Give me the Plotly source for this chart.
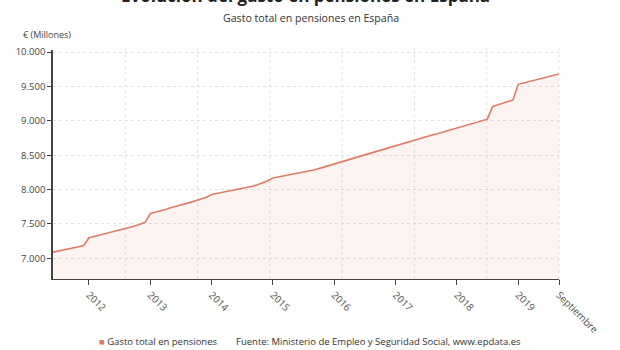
import plotly.graph_objects as go
import pandas as pd

# ---- data ----
start_month = "2011-06-01"
gasto = [
    7091, 7105, 7120, 7135, 7152, 7168, 7188,            # Jun-Dec 2011
    7300, 7318, 7335, 7352, 7370, 7388, 7405, 7425, 7446, 7470, 7497, 7526,  # 2012
    7652, 7670, 7690, 7712, 7736, 7755, 7773, 7795, 7818, 7842, 7863, 7888,  # 2013
    7928, 7942, 7957, 7972, 7987, 8002, 8017, 8032, 8048, 8072, 8100, 8130,  # 2014
    8168, 8182, 8195, 8206, 8222, 8238, 8252, 8268, 8284, 8305, 8328, 8350,  # 2015
    8375, 8400, 8425, 8445, 8465, 8485, 8505, 8527, 8550, 8572, 8595, 8618,  # 2016
    8643, 8665, 8685, 8707, 8730, 8750, 8770, 8790, 8810, 8832, 8853, 8875,  # 2017
    8898, 8918, 8940, 8960, 8980, 9002, 9024, 9207, 9230, 9255, 9280, 9304,  # 2018
    9531, 9550, 9568, 9586, 9604, 9625, 9648, 9668, 9681,                    # Jan-Sep 2019
]
fechas = pd.date_range(start_month, periods=len(gasto), freq="MS")

tick_vals = ["2012-01-01", "2013-01-01", "2014-01-01", "2015-01-01", "2016-01-01",
             "2017-01-01", "2018-01-01", "2019-01-01", "2019-09-01"]
tick_text = ["2012", "2013", "2014", "2015", "2016", "2017", "2018", "2019", "Septiembre"]
y_ticks = [7000, 7500, 8000, 8500, 9000, 9500, 10000]

titulo = "Evolución del gasto en pensiones en España"
subtitulo = "Gasto total en pensiones en España"
unidad = "€ (Millones)"
serie = "Gasto total en pensiones"
fuente = "Fuente: Ministerio de Empleo y Seguridad Social, www.epdata.es"

LINE = "#e07c63"
FILL = "rgba(232,120,95,0.09)"
FONT = "Open Sans"
GRID = "#e2e2e2"

fig = go.Figure()
fig.add_trace(go.Scatter(
    x=fechas, y=gasto, mode="lines", name=serie,
    line=dict(color=LINE, width=1.6),
    fill="tozeroy", fillcolor=FILL, showlegend=False,
))

# vertical dotted gridlines (7 equal divisions of the plot)
shapes = []
for k in range(1, 8):
    shapes.append(dict(type="line", xref="x domain", yref="y domain",
                       x0=k / 7, x1=k / 7, y0=0, y1=1.015, layer="below",
                       line=dict(color=GRID, width=1, dash="dot")))

PH = 229.5  # plot height in px (top 50, bottom 279.5)

fig.update_layout(
    width=620, height=350,
    margin=dict(l=53, r=61, t=50, b=70.5),
    paper_bgcolor="white", plot_bgcolor="white",
    font=dict(family=FONT, color="#444", size=10),
    separators=",.",
    shapes=shapes,
    xaxis=dict(
        range=[fechas[0], fechas[-1]], automargin=False,
        tickmode="array", tickvals=tick_vals, ticktext=tick_text,
        tickangle=45, ticks="outside", ticklen=5, tickcolor="#444",
        showgrid=False, showline=True, linecolor="#444", linewidth=1.2,
        tickfont=dict(size=10, color="#555"), zeroline=False,
    ),
    yaxis=dict(
        range=[6700, 10030], automargin=False, tickmode="array", tickvals=y_ticks,
        tickformat=",d", ticks="outside", ticklen=4, tickcolor="#444",
        showgrid=True, gridcolor=GRID, griddash="dot",
        showline=True, linecolor="#444", linewidth=1.5, zeroline=False,
        tickfont=dict(size=9.5, color="#444"),
    ),
    annotations=[
        dict(text=titulo, xref="paper", yref="paper", x=(305 - 53) / 506, y=(279.5 + 5) / PH,
             xanchor="center", yanchor="middle", showarrow=False,
             font=dict(size=17, color="#222", family=FONT, weight="bold")),
        dict(text=subtitulo, xref="paper", yref="paper", x=(311 - 53) / 506, y=(279.5 - 18) / PH,
             xanchor="center", yanchor="middle", showarrow=False,
             font=dict(size=10.6, color="#333", family=FONT)),
        dict(text=unidad, xref="paper", yref="paper", x=(21 - 53) / 506, y=(279.5 - 34) / PH,
             xanchor="left", yanchor="middle", showarrow=False,
             font=dict(size=9, color="#444", family=FONT)),
        dict(text=f"<span style='color:{LINE}'>■</span> {serie}", xref="paper", yref="paper",
             x=(97 - 53) / 506, y=(279.5 - 342) / PH,
             xanchor="left", yanchor="middle", showarrow=False,
             font=dict(size=9.5, color="#333", family=FONT)),
        dict(text=fuente, xref="paper", yref="paper",
             x=(234 - 53) / 506, y=(279.5 - 342) / PH,
             xanchor="left", yanchor="middle", showarrow=False,
             font=dict(size=9.5, color="#333", family=FONT)),
    ],
)

fig.write_html("out.html")
